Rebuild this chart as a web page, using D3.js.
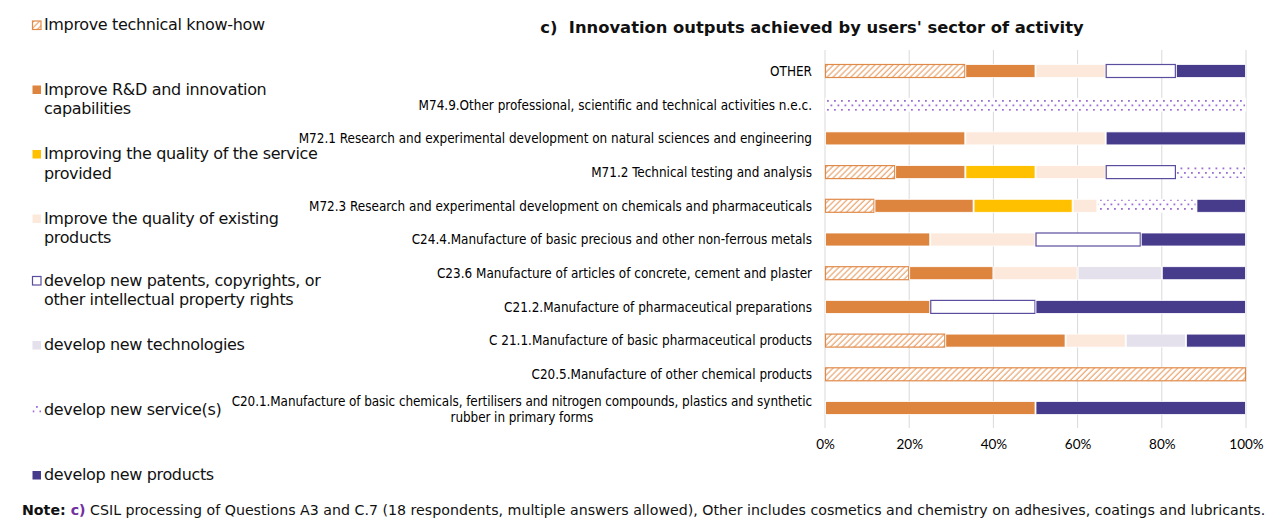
<!DOCTYPE html>
<html><head><meta charset="utf-8">
<script src="https://cdn.jsdelivr.net/npm/d3@7"></script>
<style>
body{margin:0;background:#fff;}
svg{display:block;}
text{white-space:pre;}
</style></head>
<body>
<svg id="chart" width="1265" height="518"></svg>
<script>
// ---- data ----
const categories = [
  "OTHER",
  "M74.9.Other professional, scientific and technical activities n.e.c.",
  "M72.1 Research and experimental development on natural sciences and engineering",
  "M71.2 Technical testing and analysis",
  "M72.3 Research and experimental development on chemicals and pharmaceuticals",
  "C24.4.Manufacture of basic precious and other non-ferrous metals",
  "C23.6 Manufacture of articles of concrete, cement and plaster",
  "C21.2.Manufacture of pharmaceutical preparations",
  "C 21.1.Manufacture of basic pharmaceutical products",
  "C20.5.Manufacture of other chemical products",
  "C20.1.Manufacture of basic chemicals, fertilisers and nitrogen compounds, plastics and synthetic|rubber in primary forms"
];
const seriesNames = [
  "Improve technical know-how",
  "Improve R&D and innovation capabilities",
  "Improving the quality of the service provided",
  "Improve the quality of existing products",
  "develop new patents, copyrights, or other intellectual property rights",
  "develop new technologies",
  "develop new service(s)",
  "develop new products"
];
const legendLines = [
  ["Improve technical know-how"],
  ["Improve R&D and innovation", "capabilities"],
  ["Improving the quality of the service", "provided"],
  ["Improve the quality of existing", "products"],
  ["develop new patents, copyrights, or", "other intellectual property rights"],
  ["develop new technologies"],
  ["develop new service(s)"],
  ["develop new products"]
];
const knowHow         = [33.33, 0, 0, 16.67, 11.76, 0, 20, 0, 28.57, 100, 0];
const rdCapabilities  = [16.67, 0, 33.33, 16.67, 23.53, 25, 20, 25, 28.57, 0, 50];
const serviceQuality  = [0, 0, 0, 16.67, 23.53, 0, 0, 0, 0, 0, 0];
const existingQuality = [16.67, 0, 33.33, 16.67, 5.88, 25, 20, 0, 14.29, 0, 0];
const newPatents      = [16.67, 0, 0, 16.67, 0, 25, 0, 25, 0, 0, 0];
const newTechnologies = [0, 0, 0, 0, 0, 0, 20, 0, 14.29, 0, 0];
const newServices     = [0, 100, 0, 16.67, 23.53, 0, 0, 0, 0, 0, 0];
const newProducts     = [16.67, 0, 33.33, 0, 11.76, 25, 20, 50, 14.29, 0, 50];
const tickValues = [0, 20, 40, 60, 80, 100];
const titleText = "c)  Innovation outputs achieved by users' sector of activity";

const seriesValues = [knowHow, rdCapabilities, serviceQuality, existingQuality,
  newPatents, newTechnologies, newServices, newProducts];

// ---- styles ----
const fills = ["url(#hatch)", "#DD843F", "#FFC000", "#FCE9DB", "#FFFFFF", "#E4E0EC", "url(#dots)", "#473B8C"];
const strokes = ["#E08A4A", "#FFFFFF", "#FFFFFF", "#FFFFFF", "#5B4D9E", "#FFFFFF", "#FFFFFF", "#FFFFFF"];

const svg = d3.select("#chart");
const defs = svg.append("defs");
const hatch = defs.append("pattern").attr("id", "hatch").attr("patternUnits", "userSpaceOnUse")
  .attr("width", 4.2).attr("height", 4.2).attr("patternTransform", "rotate(45)");
hatch.append("rect").attr("width", 4.2).attr("height", 4.2).attr("fill", "#fff");
hatch.append("line").attr("x1", 1).attr("y1", 0).attr("x2", 1).attr("y2", 4.2)
  .attr("stroke", "#EAA56F").attr("stroke-width", 1.2);
const dots = defs.append("pattern").attr("id", "dots").attr("patternUnits", "userSpaceOnUse")
  .attr("width", 7).attr("height", 9);
dots.append("rect").attr("width", 7).attr("height", 9).attr("fill", "#fff");
dots.append("rect").attr("x", 1).attr("y", 1).attr("width", 1.8).attr("height", 1.8).attr("fill", "#9C6ED3");
dots.append("rect").attr("x", 4.5).attr("y", 5.5).attr("width", 1.8).attr("height", 1.8).attr("fill", "#9C6ED3");

// ---- scales ----
const x = d3.scaleLinear().domain([0, 100]).range([825, 1246]);
const y = d3.scalePoint().domain(categories).range([71, 408]);
const barH = 13;

// gridlines
svg.append("g").selectAll("line").data(tickValues).join("line")
  .attr("x1", d => x(d)).attr("x2", d => x(d)).attr("y1", 50).attr("y2", 428)
  .attr("stroke", "#D9D9D9").attr("stroke-width", 1);

// stacked data
const rows = categories.map((c, i) => {
  const o = {cat: c};
  seriesNames.forEach((s, j) => o[s] = seriesValues[j][i]);
  return o;
});
const stack = d3.stack().keys(seriesNames)(rows);

const g = svg.append("g");
stack.forEach((layer, j) => {
  g.append("g").selectAll("rect").data(layer.filter(d => d[1] - d[0] > 0)).join("rect")
    .attr("x", d => x(d[0]) + 0.5)
    .attr("y", d => y(d.data.cat) - barH / 2)
    .attr("width", d => Math.max(0, x(d[1]) - x(d[0]) - 1))
    .attr("height", barH)
    .attr("fill", fills[j])
    .attr("stroke", strokes[j])
    .attr("stroke-width", (j === 0 || j === 4) ? 1.2 : 0.8);
});

// category labels
const labFont = "'DejaVu Sans Condensed', 'DejaVu Sans', sans-serif";
const labSize = 13.4;
categories.forEach(c => {
  const parts = c.split("|");
  if (parts.length === 1) {
    svg.append("text").attr("x", 812).attr("y", y(c)).attr("dy", "0.36em")
      .attr("text-anchor", "end").attr("font-family", labFont).attr("font-stretch", "condensed")
      .attr("font-size", labSize).attr("fill", "#000").text(c);
  } else {
    const t = svg.append("text").attr("font-family", labFont).attr("font-stretch", "condensed")
      .attr("font-size", labSize).attr("letter-spacing", -0.07).attr("fill", "#000").attr("text-anchor", "middle");
    const t1 = t.append("tspan").text(parts[0]);
    const w = t1.node().getComputedTextLength();
    const cx = 812 - w / 2;
    t1.attr("x", cx).attr("y", y(c) - 6.5).attr("dy", "0.36em");
    t.append("tspan").attr("x", cx).attr("y", y(c) + 9).attr("dy", "0.36em").text(parts[1]);
  }
});

// x axis
const axis = svg.append("g").attr("transform", "translate(0,444)")
  .call(d3.axisBottom(x).tickValues(tickValues).tickSize(0).tickFormat(d => d + "%"));
axis.select(".domain").remove();
axis.selectAll("text").attr("font-family", "Lato, 'Open Sans', sans-serif").attr("font-size", 13.5)
  .attr("fill", "#000").attr("dy", "0.35em").attr("y", 0);

// title
svg.append("text").attr("x", 812).attr("y", 33).attr("text-anchor", "middle")
  .attr("font-family", "'DejaVu Sans', sans-serif").attr("font-weight", "bold").attr("font-size", 16.35)
  .attr("fill", "#111").text(titleText);

// legend
const legFont = "'DejaVu Sans', sans-serif";
const legBase = [30, 94.5, 159, 223.5, 285.5, 350, 415, 480];
legendLines.forEach((lines, j) => {
  const b = legBase[j];
  svg.append("rect").attr("x", 32.5).attr("y", b - 9).attr("width", 8.5).attr("height", 8.5)
    .attr("fill", fills[j])
    .attr("stroke", j === 0 ? "#E08A4A" : (j === 4 ? "#5B4D9E" : "none"))
    .attr("stroke-width", 1.2);
  lines.forEach((ln, k) => {
    svg.append("text").attr("x", 44).attr("y", b + k * 19.5)
      .attr("font-family", legFont).attr("font-size", 16).attr("letter-spacing", -0.35)
      .attr("fill", "#111").text(ln);
  });
});

// note
const note = svg.append("text").attr("x", 22).attr("y", 515)
  .attr("font-family", legFont).attr("font-size", 14.2).attr("fill", "#111");
note.append("tspan").attr("font-weight", "bold").text("Note: ");
note.append("tspan").attr("font-weight", "bold").attr("fill", "#7030A0").text("c)");
note.append("tspan").text(" CSIL processing of Questions A3 and C.7 (18 respondents, multiple answers allowed), Other includes cosmetics and chemistry on adhesives, coatings and lubricants.");
</script>
</body></html>
